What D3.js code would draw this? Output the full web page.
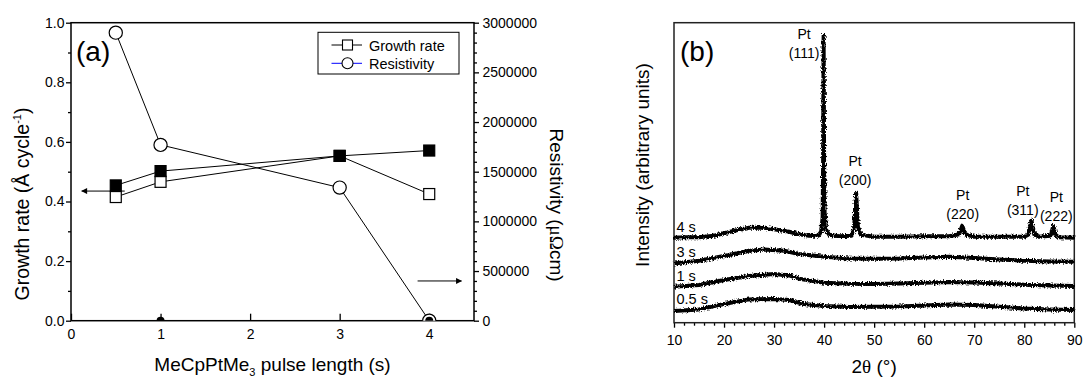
<!DOCTYPE html>
<html>
<head>
<meta charset="utf-8">
<script src="https://cdn.jsdelivr.net/npm/d3@7"></script>
<style>
  body { margin: 0; background: #fff; }
  svg { display: block; font-family: 'Liberation Sans', Arial, sans-serif; }
</style>
</head>
<body>
<div id="chart"></div>
<script>
// ---- panel (a) data ----
const pulseLength = [0.5, 1, 3, 4];
const growthRate = [0.415, 0.466, 0.553, 0.425];
const growthRateFilled = [0.454, 0.502, 0.553, 0.571];
const resistivity = [2900000, 1770000, 1340000, 0];
const resistivityFilledX = [1, 4];
const resistivityFilled = [0, 0];
const growthTicks = [0, 0.2, 0.4, 0.6, 0.8, 1.0];
const growthMinorTicks = [0.1, 0.3, 0.5, 0.7, 0.9];
const resistivityTicks = [0, 500000, 1000000, 1500000, 2000000, 2500000, 3000000];
const pulseTicks = [0, 1, 2, 3, 4];
const legendNames = ['Growth rate', 'Resistivity'];
const legendColors = ['#000', '#0000ff'];

// ---- panel (b) data: [2theta, intensity (arb.)] ----
const xrd4s = [
  [10, 85], [12, 85.5], [15, 85.5], [18, 87], [20, 89.5], [22.5, 92.5], [25, 95], [28, 95],
  [30, 93.5], [33, 91], [35, 88.5], [37, 87], [38.8, 87], [39.4, 91], [39.7, 105], [39.8, 160],
  [39.9, 287], [40.0, 160], [40.1, 110], [40.4, 93], [41, 88], [43, 86.5], [45.5, 87], [46.0, 95],
  [46.4, 130], [46.75, 96], [47.3, 88], [50, 86], [55, 86], [60, 86.5], [65, 86.5], [67.0, 88.5],
  [67.6, 97], [68.2, 88.5], [70, 86], [75, 86], [80, 86], [80.8, 88], [81.4, 102], [82.0, 88],
  [83, 86], [85.3, 87], [85.8, 97], [86.3, 87], [87, 85.5], [90, 85]
];
const xrd3s = [
  [10, 59.3], [15, 62], [20, 66.7], [25, 72], [28, 73.3], [32, 72], [35, 68.7], [40, 66],
  [45, 64.3], [50, 64], [55, 64.3], [60, 65.3], [65, 66], [70, 64.7], [75, 63.3], [80, 62],
  [85, 61.3], [90, 61]
];
const xrd1s = [
  [10, 36], [15, 37.7], [20, 42.7], [25, 46.7], [30, 48.7], [33, 47.3], [35, 44], [40, 40],
  [45, 39], [50, 38.7], [55, 39.3], [60, 40], [65, 40.7], [70, 40.3], [75, 39.3], [80, 38],
  [85, 37.3], [90, 36.7]
];
const xrd05s = [
  [10, 11.7], [15, 13.3], [20, 18.7], [25, 23.3], [30, 23.7], [33, 22.7], [36, 18.7], [40, 16.7],
  [45, 15.7], [50, 16], [55, 16.3], [60, 17.3], [65, 18.3], [70, 17.7], [75, 16], [80, 14.3],
  [85, 13.3], [90, 12.7]
];
const sampleNames = ['4 s', '3 s', '1 s', '0.5 s'];
const sampleLabelLevel = [90.7, 65.7, 41.7, 18.7];
const peakNames = ['(111)', '(200)', '(220)', '(311)', '(222)'];
const peakLabelAngle = [36.0, 46.2, 67.7, 79.7, 86.4];
const peakLabelLevel = [283.7, 156.7, 122.7, 126.7, 120.4];
const thetaTicks = [10, 20, 30, 40, 50, 60, 70, 80, 90];
const thetaMinorTicks = d3.range(12, 90, 2).filter(d => d % 10 !== 0);

const width = 1085, height = 377;
const svg = d3.select('#chart').append('svg').attr('width', width).attr('height', height);

let defs = svg.append('defs');
defs.append('marker')
  .attr('id', 'head')
  .attr('viewBox', '0 0 10 10')
  .attr('refX', 9).attr('refY', 5)
  .attr('markerWidth', 9).attr('markerHeight', 6)
  .attr('markerUnits', 'userSpaceOnUse')
  .attr('orient', 'auto')
  .append('path').attr('d', 'M0,0 L10,5 L0,10 z').attr('fill', '#000');

// rough detector-noise look for the XRD traces (rendering effect only)
let grain = defs.append('filter').attr('id', 'grain')
  .attr('x', '-2%').attr('y', '-30%').attr('width', '104%').attr('height', '160%');
grain.append('feTurbulence').attr('type', 'fractalNoise').attr('baseFrequency', '0.9 0.6')
  .attr('numOctaves', 1).attr('seed', 3).attr('result', 'n');
grain.append('feDisplacementMap').attr('in', 'SourceGraphic').attr('in2', 'n')
  .attr('scale', 5).attr('xChannelSelector', 'R').attr('yChannelSelector', 'G');

function styleAxis(g) {
  g.select('.domain').remove();
  g.selectAll('line').attr('stroke', '#000').attr('stroke-width', 1.3);
  g.selectAll('text').attr('fill', '#000').style('font-size', '14px');
}

// ================= panel (a) =================
let aLeft = 71, aRight = 474, aTop = 22.7, aBottom = 320.7;
let xA = d3.scaleLinear().domain([0, 4.5]).range([aLeft, aRight]);
let yG = d3.scaleLinear().domain([0, 1]).range([aBottom, aTop]);
let yR = d3.scaleLinear().domain([0, 3000000]).range([aBottom, aTop]);

let panelA = svg.append('g');

panelA.append('clipPath').attr('id', 'clipA')
  .append('rect').attr('x', aLeft).attr('y', aTop).attr('width', aRight - aLeft).attr('height', aBottom - aTop);

panelA.append('g').attr('transform', 'translate(' + aLeft + ',0)')
  .call(d3.axisLeft(yG).tickValues(growthTicks).tickSize(5).tickPadding(1.5).tickFormat(d3.format('.1f')))
  .call(styleAxis);
panelA.append('g').attr('transform', 'translate(' + aLeft + ',0)')
  .call(d3.axisLeft(yG).tickValues(growthMinorTicks).tickSize(3).tickFormat(''))
  .call(styleAxis);

panelA.append('g').attr('transform', 'translate(' + aRight + ',0)')
  .call(d3.axisRight(yR).tickValues(resistivityTicks).tickSize(5).tickPadding(3.5).tickFormat(d3.format('d')))
  .call(styleAxis);
panelA.append('g').attr('transform', 'translate(' + aRight + ',0)')
  .call(d3.axisRight(yR).tickValues(d3.range(100000, 3000000, 100000).filter(d => d % 500000 !== 0)).tickSize(3).tickFormat(''))
  .call(styleAxis);

panelA.append('g').attr('transform', 'translate(0,' + aBottom + ')')
  .call(d3.axisBottom(xA).tickValues(pulseTicks).tickSizeInner(-7).tickSizeOuter(0).tickPadding(8.5).tickFormat(d3.format('d')))
  .call(styleAxis);

panelA.append('rect')
  .attr('x', aLeft).attr('y', aTop).attr('width', aRight - aLeft).attr('height', aBottom - aTop)
  .attr('fill', 'none').attr('stroke', '#000').attr('stroke-width', 1.5);

let plotA = panelA.append('g').attr('clip-path', 'url(#clipA)');

let lineG = d3.line().x((d, i) => xA(pulseLength[i])).y(d => yG(d));
let lineR = d3.line().x((d, i) => xA(pulseLength[i])).y(d => yR(d));

plotA.append('path').attr('d', lineG(growthRate)).attr('fill', 'none').attr('stroke', '#000').attr('stroke-width', 1);
plotA.append('path').attr('d', lineG(growthRateFilled)).attr('fill', 'none').attr('stroke', '#000').attr('stroke-width', 1);
plotA.append('path').attr('d', lineR(resistivity)).attr('fill', 'none').attr('stroke', '#000').attr('stroke-width', 1);

let sq = 11;
plotA.selectAll('rect.open').data(growthRate).enter().append('rect')
  .attr('class', 'open')
  .attr('x', (d, i) => xA(pulseLength[i]) - sq / 2).attr('y', d => yG(d) - sq / 2)
  .attr('width', sq).attr('height', sq)
  .attr('fill', '#fff').attr('stroke', '#000').attr('stroke-width', 1.2);
plotA.selectAll('rect.filled').data(growthRateFilled).enter().append('rect')
  .attr('class', 'filled')
  .attr('x', (d, i) => xA(pulseLength[i]) - sq / 2).attr('y', d => yG(d) - sq / 2)
  .attr('width', sq).attr('height', sq)
  .attr('fill', '#000').attr('stroke', '#000').attr('stroke-width', 1.2);
plotA.selectAll('circle.open').data(resistivity).enter().append('circle')
  .attr('class', 'open')
  .attr('cx', (d, i) => xA(pulseLength[i])).attr('cy', d => yR(d)).attr('r', 6.6)
  .attr('fill', '#fff').attr('stroke', '#000').attr('stroke-width', 1.2);
plotA.selectAll('circle.filled').data(resistivityFilled).enter().append('circle')
  .attr('class', 'filled')
  .attr('cx', (d, i) => xA(resistivityFilledX[i])).attr('cy', d => yR(d)).attr('r', 4)
  .attr('fill', '#000');

// arrows
panelA.append('line')
  .attr('x1', xA(0.6)).attr('x2', xA(0.12)).attr('y1', yG(0.435)).attr('y2', yG(0.435))
  .attr('stroke', '#000').attr('stroke-width', 1).attr('marker-end', 'url(#head)');
panelA.append('line')
  .attr('x1', xA(3.87)).attr('x2', xA(4.36)).attr('y1', yR(400000)).attr('y2', yR(400000))
  .attr('stroke', '#000').attr('stroke-width', 1).attr('marker-end', 'url(#head)');

// legend
let legend = panelA.append('g');
legend.append('rect').attr('x', 318).attr('y', 32.3).attr('width', 141).attr('height', 41.7)
  .attr('fill', '#fff').attr('stroke', '#000').attr('stroke-width', 1);
legendNames.forEach((name, i) => {
  let ly = 45 + i * 18.3;
  legend.append('line').attr('x1', 331.5).attr('x2', 362).attr('y1', ly).attr('y2', ly)
    .attr('stroke', legendColors[i]).attr('stroke-width', 1);
  if (i === 0) {
    legend.append('rect').attr('x', 342.5).attr('y', ly - 5).attr('width', 10).attr('height', 10)
      .attr('fill', '#fff').attr('stroke', '#000').attr('stroke-width', 1.1);
  } else {
    legend.append('circle').attr('cx', 347.5).attr('cy', ly).attr('r', 5.5)
      .attr('fill', '#fff').attr('stroke', '#000').attr('stroke-width', 1.1);
  }
  legend.append('text').attr('x', 369).attr('y', ly + 5.5).style('font-size', '14.5px').text(name);
});

panelA.append('text').attr('x', 76).attr('y', 61).style('font-size', '28px').text('(a)');

let yLabA = panelA.append('text')
  .attr('transform', 'translate(28.5,' + 204 + ') rotate(-90)')
  .attr('text-anchor', 'middle').style('font-size', '19.5px');
yLabA.append('tspan').text('Growth rate (Å cycle');
yLabA.append('tspan').attr('dy', -8).style('font-size', '11px').text('-1');
yLabA.append('tspan').attr('dy', 8).text(')');

let yLabR = panelA.append('text')
  .attr('transform', 'translate(550,' + 205 + ') rotate(90)')
  .attr('text-anchor', 'middle').style('font-size', '19px');
yLabR.append('tspan').text('Resistivity (');
yLabR.append('tspan').style('font-family', "'Liberation Serif', serif").text('μΩ');
yLabR.append('tspan').text('cm)');

let xLabA = panelA.append('text')
  .attr('x', (aLeft + aRight) / 2).attr('y', 370.5)
  .attr('text-anchor', 'middle').style('font-size', '19px');
xLabA.append('tspan').text('MeCpPtMe');
xLabA.append('tspan').attr('dy', 5).style('font-size', '11px').text('3');
xLabA.append('tspan').attr('dy', -5).text(' pulse length (s)');

// ================= panel (b) =================
let bLeft = 674, bRight = 1074.3, bTop = 22.7, bBottom = 322.7;
let xB = d3.scaleLinear().domain([10, 90]).range([bLeft, bRight]);
let yB = d3.scaleLinear().domain([0, 300]).range([bBottom, bTop]);

let panelB = svg.append('g');

panelB.append('g').attr('transform', 'translate(0,' + bBottom + ')')
  .call(d3.axisBottom(xB).tickValues(thetaTicks).tickSize(5).tickPadding(7.3))
  .call(styleAxis);
panelB.append('g').attr('transform', 'translate(0,' + bBottom + ')')
  .call(d3.axisBottom(xB).tickValues(thetaMinorTicks).tickSize(3).tickFormat(''))
  .call(styleAxis);

panelB.append('rect')
  .attr('x', bLeft).attr('y', bTop).attr('width', bRight - bLeft).attr('height', bBottom - bTop)
  .attr('fill', 'none').attr('stroke', '#222').attr('stroke-width', 1.5);

let lineB = d3.line().x(d => xB(d[0])).y(d => yB(d[1]));
[xrd4s, xrd3s, xrd1s, xrd05s].forEach(trace => {
  panelB.append('path').attr('d', lineB(trace))
    .attr('fill', 'none').attr('stroke', '#000').attr('stroke-width', 4)
    .attr('stroke-linejoin', 'round')
    .attr('filter', 'url(#grain)');
});

sampleNames.forEach((name, i) => {
  panelB.append('text').attr('x', xB(10.5)).attr('y', yB(sampleLabelLevel[i]))
    .style('font-size', '14.5px').text(name);
});

peakNames.forEach((name, i) => {
  let t = panelB.append('text').attr('text-anchor', 'middle').style('font-size', '14px');
  t.append('tspan').attr('x', xB(peakLabelAngle[i])).attr('y', yB(peakLabelLevel[i])).text('Pt');
  t.append('tspan').attr('x', xB(peakLabelAngle[i])).attr('y', yB(peakLabelLevel[i]) + 18.5).text(name);
});

panelB.append('text').attr('x', 680).attr('y', 61).style('font-size', '28px').text('(b)');

panelB.append('text')
  .attr('transform', 'translate(649,' + 165 + ') rotate(-90)')
  .attr('text-anchor', 'middle').style('font-size', '19px')
  .text('Intensity (arbitrary units)');

let xLabB = panelB.append('text')
  .attr('x', (bLeft + bRight) / 2).attr('y', 373)
  .attr('text-anchor', 'middle').style('font-size', '19px');
xLabB.append('tspan').text('2');
xLabB.append('tspan').style('font-family', "'Liberation Serif', serif").text('θ');
xLabB.append('tspan').text(' (°)');
</script>
</body>
</html>
